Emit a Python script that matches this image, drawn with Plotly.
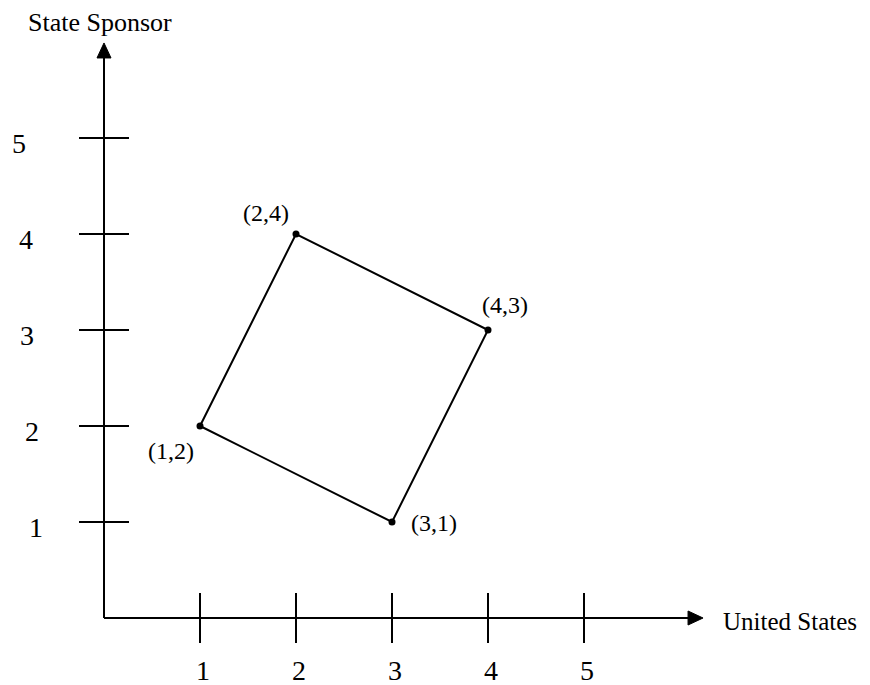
import plotly.graph_objects as go

# ---- data ----
x_ticks = [1, 2, 3, 4, 5]
y_ticks = [1, 2, 3, 4, 5]
tick_labels = ["1", "2", "3", "4", "5"]
point_x = [1, 2, 4, 3]
point_y = [2, 4, 3, 1]
point_labels = ["(1,2)", "(2,4)", "(4,3)", "(3,1)"]
x_title = "United States"
y_title = "State Sponsor"

# ---- layout constants ----
PAGE_OFF = 8         # default body margin of the html page
W, H = 870 - PAGE_OFF, 685 - PAGE_OFF
PX = 96.0            # pixels per unit
OX, OY = 104 - PAGE_OFF, 618 - PAGE_OFF   # origin in figure pixels
FONT = "Liberation Serif"
AX_X_END = 6.24
AX_Y_END = 5.99
TICK_HALF = 25 / PX
# label offsets in pixels (dx, dy) relative to points
label_shift = [(-29, -25), (-30, 21), (17, 25), (42, -1)]
# y tick label x-centres (screen px) — slightly staggered as in the source
ylab_x = [36, 32, 27, 26, 19]


def sx(p):
    return (p - PAGE_OFF - OX) / PX


def sy(p):
    return (OY - (p - PAGE_OFF)) / PX


fig = go.Figure()

fig.add_trace(go.Scatter(
    x=point_x + [point_x[0]], y=point_y + [point_y[0]],
    mode="lines", line=dict(color="black", width=2),
    hoverinfo="skip", showlegend=False))
fig.add_trace(go.Scatter(
    x=point_x, y=point_y, mode="markers",
    marker=dict(color="black", size=7),
    hoverinfo="skip", showlegend=False))

shapes = []
shapes.append(dict(type="line", x0=0, y0=0, x1=AX_X_END - 14 / PX, y1=0,
                   line=dict(color="black", width=2)))
shapes.append(dict(type="line", x0=0, y0=0, x1=0, y1=AX_Y_END - 14 / PX,
                   line=dict(color="black", width=2)))
shapes.append(dict(type="path", xsizemode="pixel", ysizemode="pixel",
                   xanchor=AX_X_END, yanchor=0,
                   path="M 0 0 L -15 7 L -15 -7 Z",
                   fillcolor="black", line=dict(color="black", width=1)))
shapes.append(dict(type="path", xsizemode="pixel", ysizemode="pixel",
                   xanchor=0, yanchor=AX_Y_END,
                   path="M 0 0 L -7 -15 L 7 -15 Z",
                   fillcolor="black", line=dict(color="black", width=1)))
for t in x_ticks:
    shapes.append(dict(type="line", x0=t, x1=t, y0=-TICK_HALF, y1=TICK_HALF,
                       line=dict(color="black", width=2)))
for t in y_ticks:
    shapes.append(dict(type="line", y0=t, y1=t, x0=-TICK_HALF, x1=TICK_HALF,
                       line=dict(color="black", width=2)))

annotations = []
for t, lab in zip(x_ticks, tick_labels):
    annotations.append(dict(x=t, y=sy(670), text=lab, showarrow=False,
                            xshift=3, font=dict(family=FONT, size=28, color="black"),
                            xanchor="center", yanchor="middle"))
for t, lab, lx in zip(y_ticks, tick_labels, ylab_x):
    annotations.append(dict(x=sx(lx), y=t, text=lab, showarrow=False,
                            yshift=-5, font=dict(family=FONT, size=28, color="black"),
                            xanchor="center", yanchor="middle"))
for px_, py_, lab, (dx, dy) in zip(point_x, point_y, point_labels, label_shift):
    annotations.append(dict(x=px_, y=py_, text=lab, showarrow=False,
                            xshift=dx, yshift=dy,
                            font=dict(family=FONT, size=24, color="black"),
                            xanchor="center", yanchor="middle"))
annotations.append(dict(x=sx(100), y=sy(22), text=y_title,
                        showarrow=False, xanchor="center", yanchor="middle",
                        font=dict(family=FONT, size=26, color="black")))
annotations.append(dict(x=sx(721), y=sy(621), text=x_title,
                        showarrow=False, xanchor="left", yanchor="middle",
                        font=dict(family=FONT, size=25, color="black")))

fig.update_layout(
    width=W, height=H, autosize=False,
    margin=dict(l=0, r=0, t=0, b=0),
    paper_bgcolor="white", plot_bgcolor="white",
    xaxis=dict(range=[-OX / PX, (W - OX) / PX], visible=False, fixedrange=True),
    yaxis=dict(range=[-(H - OY) / PX, OY / PX], visible=False, fixedrange=True),
    shapes=shapes, annotations=annotations, showlegend=False,
)

fig.write_html("out.html")
